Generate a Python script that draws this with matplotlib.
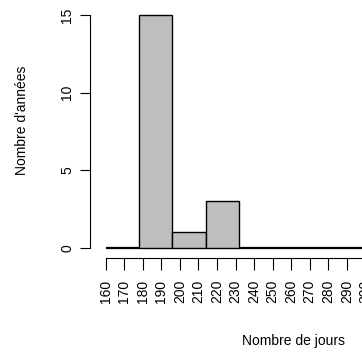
import matplotlib
matplotlib.use("Agg")
import matplotlib.pyplot as plt
import numpy as np

plt.rcParams['font.family'] = ['Liberation Sans', 'DejaVu Sans']

# histogram bins (days) and number of years in each bin
bin_edges = [160, 178, 196, 214, 232, 250, 268, 286, 304, 322]
counts = [0, 15, 1, 3, 0, 0, 0, 0, 0]

x_ticks = [160, 170, 180, 190, 200, 210, 220, 230, 240, 250, 260, 270, 280, 290, 300]
x_labels = [str(v) for v in x_ticks]
y_ticks = [0, 5, 10, 15]
y_labels = ["0", "5", "10", "15"]

fig = plt.figure(figsize=(3.62, 3.52), dpi=100)
ax = fig.add_axes([90 / 362, 94 / 352, 310 / 362, 258 / 352])

edges = np.array(bin_edges)
# empty bins collapse to a flat line, drawn a bit heavier
widths = [1.6 if c == 0 else 1.0 for c in counts]
ax.bar(edges[:-1], counts, width=np.diff(edges), align='edge',
       color='#bebebe', edgecolor='black', linewidth=widths)

ax.set_xlim(151.53, 318.7)
ax.set_ylim(-0.644, 15.97)

for side in ['top', 'right']:
    ax.spines[side].set_visible(False)
ax.spines['left'].set_bounds(0, 15)
ax.spines['bottom'].set_bounds(160, 300)
ax.spines['left'].set_linewidth(0.8)
ax.spines['bottom'].set_linewidth(0.8)

ax.set_xticks(x_ticks)
ax.set_xticklabels(x_labels, rotation=90, fontsize=10)
ax.set_yticks(y_ticks)
ax.set_yticklabels(y_labels, rotation=90, fontsize=10, va='center')
ax.tick_params(axis='x', length=8.6, width=0.8, pad=7)
ax.tick_params(axis='y', length=7.2, width=0.8, pad=4)

fig.text(293 / 362, 7 / 352, "Nombre de jours", ha='center', va='baseline', fontsize=10)
fig.text(22 / 362, 232 / 352, "Nombre d'années", ha='center', va='center',
         rotation=90, fontsize=10)

fig.savefig("out.png", dpi=100)
